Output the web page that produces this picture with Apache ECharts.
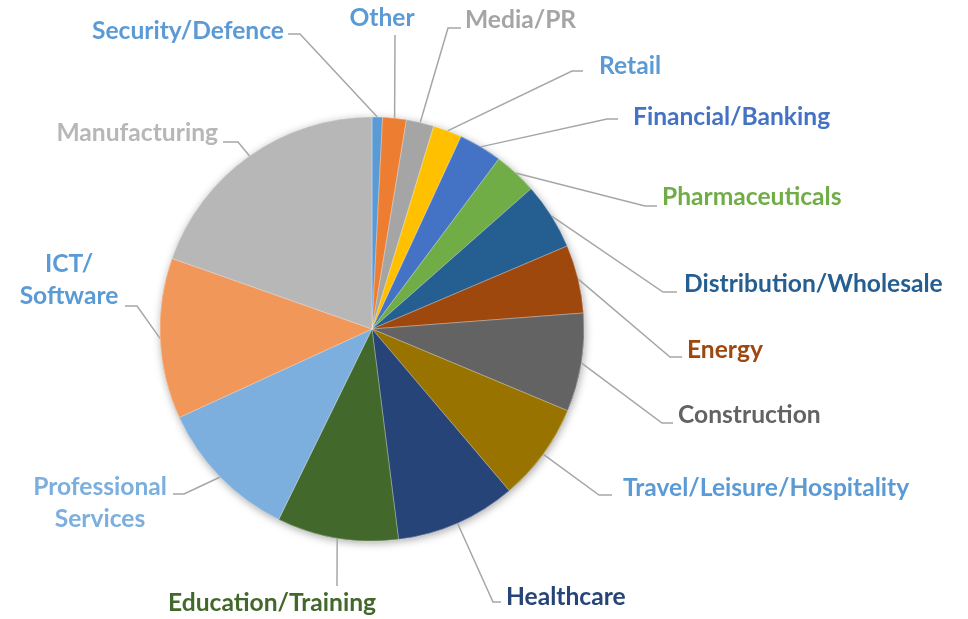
<!DOCTYPE html>
<html>
<head>
<meta charset="utf-8">
<script src="https://cdn.jsdelivr.net/npm/echarts@6/dist/echarts.min.js"></script>
<style>
  html, body { margin: 0; padding: 0; background: #fff; }
  #chart { width: 968px; height: 619px; }
</style>
</head>
<body>
<div id="chart"></div>
<script>
// 行业分布（百分比，按图片估读）
const categories = [
  'Security/Defence', 'Other', 'Media/PR', 'Retail', 'Financial/Banking',
  'Pharmaceuticals', 'Distribution/Wholesale', 'Energy', 'Construction',
  'Travel/Leisure/Hospitality', 'Healthcare', 'Education/Training',
  'Professional\nServices', 'ICT/\nSoftware', 'Manufacturing'
];
const shares = [0.8, 1.8, 2.1, 2.2, 3.3, 3.3, 5.1, 5.2, 7.5, 7.5, 9.2, 9.25, 10.9, 12.25, 19.6];

const sliceColors = [
  '#5B9BD5', '#ED7D31', '#A5A5A5', '#FFC000', '#4472C4',
  '#70AD47', '#255E91', '#9E480E', '#636363', '#997300',
  '#264478', '#43682B', '#7CAFDD', '#F1975A', '#B7B7B7'
];
const labelColors = [
  '#5B9BD5', '#5B9BD5', '#A5A5A5', '#5B9BD5', '#4472C4',
  '#70AD47', '#255E91', '#9E480E', '#636363', '#5B9BD5',
  '#264478', '#43682B', '#7CAFDD', '#5B9BD5', '#B7B7B7'
];

// 标签位置 [x, y, align]
const labelAnchors = [
  [284, 31, 'right'], [382, 18, 'center'], [465, 20, 'left'], [599, 66, 'left'],
  [633, 117, 'left'], [662, 197, 'left'], [684, 284, 'left'], [687, 350, 'left'],
  [678, 415, 'left'], [623, 488, 'left'], [506, 597, 'left'], [272, 603, 'center'],
  [100, 503, 'center'], [69, 280, 'center'], [218, 133, 'right']
];
// 引导线折点和终点 [bx, by, ex, ey]
const leaderPoints = [
  [300, 34, 288, 34], [395, 37, 395, 35], [448, 28, 461, 28], [572, 71, 583, 71],
  [607, 119, 618, 119], [645, 206, 657, 206], [663, 292, 677, 292], [670, 357, 682, 357],
  [662, 423, 673, 423], [599, 495, 612, 495], [493, 602, 501, 602], [337, 584, 337, 586],
  [184, 494, 173, 494], [137, 306, 125, 306], [238, 142, 223, 142]
];

const CX = 372, CY = 329, R = 212;

const chart = echarts.init(document.getElementById('chart'));
const total = shares.reduce((a, b) => a + b, 0);
const cum = [];
shares.reduce((acc, v, i) => { cum[i] = acc; return acc + v; }, 0);

const pieData = categories.map((name, i) => ({
  name: name,
  value: shares[i],
  itemStyle: { color: sliceColors[i] },
  label: { color: labelColors[i] }
}));

const option = {
  animation: false,
  series: [
    {
      // 阴影层
      type: 'pie',
      silent: true,
      center: [CX, CY],
      radius: R,
      startAngle: 90,
      clockwise: true,
      z: 1,
      label: { show: false },
      labelLine: { show: false },
      itemStyle: {
        shadowBlur: 9,
        shadowOffsetX: 1,
        shadowOffsetY: 2,
        shadowColor: 'rgba(0,0,0,0.35)'
      },
      data: pieData.map(d => ({ name: d.name, value: d.value, itemStyle: d.itemStyle }))
    },
    {
      type: 'pie',
      center: [CX, CY],
      radius: R,
      startAngle: 90,
      clockwise: true,
      z: 2,
      avoidLabelOverlap: false,
      itemStyle: { borderColor: 'rgba(255,255,255,0.5)', borderWidth: 0.6 },
      label: {
        show: true,
        position: 'outside',
        fontFamily: 'Lato',
        fontWeight: 'bold',
        fontSize: 24.6,
        lineHeight: 32
      },
      labelLine: {
        show: true,
        length: 10,
        length2: 10,
        lineStyle: { color: '#A6A6A6', width: 1.5 }
      },
      labelLayout: function (p) {
        const i = p.dataIndex;
        const mid = (cum[i] + shares[i] / 2) / total * Math.PI * 2;
        const start = [CX + R * Math.sin(mid), CY - R * Math.cos(mid)];
        const a = labelAnchors[i], g = leaderPoints[i];
        return {
          x: a[0],
          y: a[1],
          align: a[2],
          verticalAlign: 'middle',
          labelLinePoints: [start, [g[0], g[1]], [g[2], g[3]]]
        };
      },
      data: pieData
    }
  ]
};
chart.setOption(option);
</script>
</body>
</html>
